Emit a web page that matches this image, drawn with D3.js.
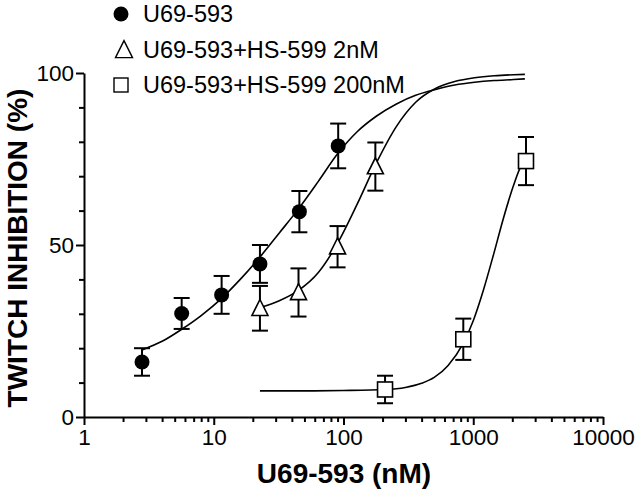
<!DOCTYPE html>
<html><head><meta charset="utf-8">
<script src="https://cdn.jsdelivr.net/npm/d3@7"></script>
<style>
html,body{margin:0;padding:0;background:#fff;}
svg{display:block;font-family:"Liberation Sans",Arial,Helvetica,sans-serif;}
</style></head>
<body><svg id="chart" width="640" height="496"></svg>
<script>
// ---- data ----
const seriesNames = ["U69-593", "U69-593+HS-599 2nM", "U69-593+HS-599 200nM"];
// U69-593 alone (filled circles)
const conc1 = [2.8, 5.66, 11.5, 22.7, 45.7, 91];
const resp1 = [16, 30.1, 35.5, 44.5, 59.7, 78.8];
const err1  = [4, 4.5, 5.5, 5.5, 6, 6.5];
// + HS-599 2nM (open triangles)
const conc2 = [22.7, 45, 90, 176];
const resp2 = [31.6, 36.2, 49.5, 72.8];
const err2  = [6.5, 7, 6, 7];
// + HS-599 200nM (open squares)
const conc3 = [209, 838, 2550];
const resp3 = [8, 22.6, 74.4];
const err3  = [4, 6, 7];
// fitted curves, points
const fit1X = [2.8, 4, 5.66, 8, 11.5, 16, 22.7, 32, 45, 64, 90, 128, 180, 256, 360, 512, 720, 1024, 1450, 2048, 2500];
const fit1Y = [19.5, 22, 25.5, 29.5, 34.5, 40, 46.5, 53.5, 60.5, 68.5, 76.5, 83, 87.5, 91, 93.5, 95.2, 96.5, 97.3, 97.8, 98.1, 98.3];
const fit2X = [22.7, 32, 45, 64, 90, 128, 180, 256, 360, 512, 720, 1024, 1450, 2048, 2500];
const fit2Y = [31.8, 33.8, 36.8, 42, 50.5, 62, 74, 84.5, 91.5, 95.5, 97.5, 98.6, 99.2, 99.5, 99.6];
const fit3X = [22.7, 50, 100, 209, 300, 400, 500, 640, 838, 1000, 1200, 1440, 1700, 2030, 2300, 2500];
const fit3Y = [7.6, 7.6, 7.7, 8.0, 8.6, 9.8, 11.5, 15, 21.5, 28, 37, 47.5, 57.5, 67, 72.5, 75];
// axes
const xMajor = [1, 10, 100, 1000, 10000];
const yMajor = [0, 50, 100];
const yMinor = [10, 20, 30, 40, 60, 70, 80, 90];
const xTitle = "U69-593 (nM)";
const yTitle = "TWITCH INHIBITION (%)";

// ---- drawing ----
const svg = d3.select("#chart");
const x = d3.scaleLog().domain([1, 10000]).range([84, 603]);
const y = d3.scaleLinear().domain([0, 100]).range([417, 73]);

const xMinor = [];
xMajor.slice(0, -1).forEach(d => { for (let k = 2; k <= 9; k++) xMinor.push(d * k); });

const gx = svg.append("g").attr("transform", "translate(0,417)");
gx.call(d3.axisBottom(x).tickValues(xMajor).tickFormat(d3.format("d")).tickSize(8).tickSizeOuter(0).tickPadding(4));
const gxm = svg.append("g").attr("transform", "translate(0,417)");
gxm.call(d3.axisBottom(x).tickValues(xMinor).tickFormat("").tickSize(5).tickSizeOuter(0));
gxm.select(".domain").remove();

const gy = svg.append("g").attr("transform", "translate(84,0)");
gy.call(d3.axisLeft(y).tickValues(yMajor).tickSize(8).tickSizeOuter(0).tickPadding(2));
const gym = svg.append("g").attr("transform", "translate(84,0)");
gym.call(d3.axisLeft(y).tickValues(yMinor).tickFormat("").tickSize(5).tickSizeOuter(0));
gym.select(".domain").remove();

svg.selectAll(".domain").attr("stroke", "#000").attr("stroke-width", 2);
svg.selectAll(".tick line").attr("stroke", "#000").attr("stroke-width", 2);
svg.selectAll(".tick text").attr("font-size", 22.5).attr("fill", "#000")
  .attr("font-family", "Liberation Sans, Arial, sans-serif");

// axis titles
svg.append("text").attr("x", 344).attr("y", 483).attr("text-anchor", "middle")
  .attr("font-size", 28).attr("font-weight", "bold").text(xTitle);
svg.append("text").attr("transform", "translate(27,248) rotate(-90)").attr("text-anchor", "middle")
  .attr("font-size", 28).attr("font-weight", "bold").text(yTitle);

// curves
const line = d3.line().x(d => x(d[0])).y(d => y(d[1])).curve(d3.curveMonotoneX);
[[fit1X, fit1Y], [fit2X, fit2Y], [fit3X, fit3Y]].forEach(([xs, ys]) => {
  svg.append("path").datum(xs.map((v, i) => [v, ys[i]])).attr("d", line)
    .attr("fill", "none").attr("stroke", "#000").attr("stroke-width", 1.6);
});

// error bars
function errorBars(cs, rs, es) {
  const g = svg.append("g").attr("stroke", "#000").attr("stroke-width", 2);
  cs.forEach((c, i) => {
    const cx = x(c), t = y(rs[i] + es[i]), b = y(rs[i] - es[i]);
    g.append("line").attr("x1", cx).attr("x2", cx).attr("y1", t).attr("y2", b);
    g.append("line").attr("x1", cx - 8).attr("x2", cx + 8).attr("y1", t).attr("y2", t);
    g.append("line").attr("x1", cx - 8).attr("x2", cx + 8).attr("y1", b).attr("y2", b);
  });
}
errorBars(conc1, resp1, err1);
errorBars(conc2, resp2, err2);
errorBars(conc3, resp3, err3);

// markers
const triPath = (cx, cy, s) => `M${cx},${cy - s * 0.55}L${cx + s / 2},${cy + s * 0.45}L${cx - s / 2},${cy + s * 0.45}Z`;
conc1.forEach((c, i) => svg.append("circle").attr("cx", x(c)).attr("cy", y(resp1[i])).attr("r", 7.5).attr("fill", "#000"));
conc2.forEach((c, i) => svg.append("path").attr("d", triPath(x(c), y(resp2[i]), 16))
  .attr("fill", "#fff").attr("stroke", "#000").attr("stroke-width", 1.6));
conc3.forEach((c, i) => svg.append("rect").attr("x", x(c) - 7.5).attr("y", y(resp3[i]) - 7.5).attr("width", 15).attr("height", 15)
  .attr("fill", "#fff").attr("stroke", "#000").attr("stroke-width", 1.6));

// legend
const legY = [14, 50, 85];
svg.append("circle").attr("cx", 121).attr("cy", legY[0]).attr("r", 7.5).attr("fill", "#000");
svg.append("path").attr("d", triPath(124, legY[1], 17)).attr("fill", "#fff").attr("stroke", "#000").attr("stroke-width", 1.4);
svg.append("rect").attr("x", 114).attr("y", legY[2] - 7).attr("width", 14).attr("height", 14)
  .attr("fill", "#fff").attr("stroke", "#000").attr("stroke-width", 1.4);
seriesNames.forEach((n, i) => svg.append("text").attr("x", 143).attr("y", legY[i] + 7.5)
  .attr("font-size", 23.5).attr("fill", "#000").text(n));
</script></body></html>
